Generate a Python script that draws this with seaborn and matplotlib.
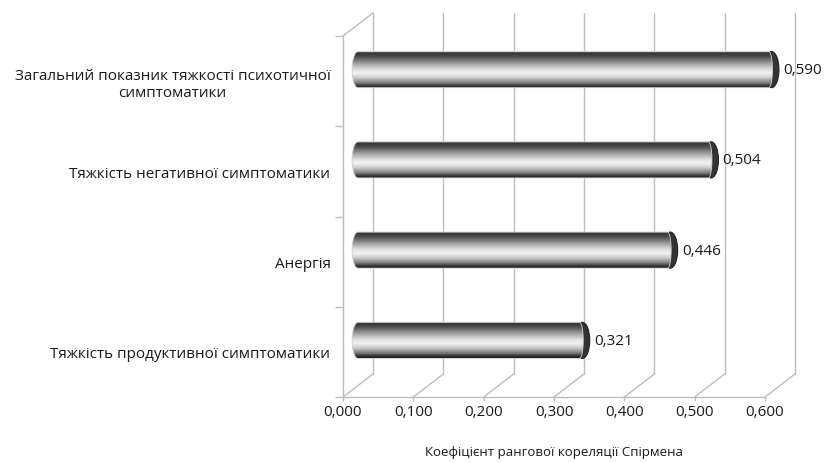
import numpy as np
import matplotlib
matplotlib.use("Agg")
import matplotlib.pyplot as plt
import matplotlib.transforms as mtransforms
from matplotlib.patches import ConnectionPatch, Ellipse, PathPatch
from matplotlib.path import Path
import seaborn as sns

# data
labels = [
    "Загальний показник тяжкості психотичної\nсимптоматики",
    "Тяжкість негативної симптоматики",
    "Анергія",
    "Тяжкість продуктивної симптоматики",
]
values = [0.590, 0.504, 0.446, 0.321]
xticks = [0.0, 0.1, 0.2, 0.3, 0.4, 0.5, 0.6]
xtick_labels = ["0,000", "0,100", "0,200", "0,300", "0,400", "0,500", "0,600"]
xlabel = "Коефіцієнт рангової кореляції Спірмена"

sns.set_style("white")
plt.rcParams["font.family"] = ["Open Sans", "DejaVu Sans"]

GRID = "#bdbdbd"
TXT = "#1a1a1a"

fig = plt.figure(figsize=(8.28, 4.64), dpi=100)
ax = fig.add_axes([343 / 828, 66 / 464, 422 / 828, 361 / 464])

sns.barplot(x=values, y=labels, orient="h", color="#b0b0b0", width=0.4, ax=ax)
bars = list(ax.patches)

ax.set_xlim(0, 0.6)
ax.set_ylim(len(labels) - 0.5, -0.5)
ax.autoscale(False)

# 3d-ish offsets: back wall and bar depth
back = mtransforms.ScaledTranslation(30 / 100, 23 / 100, fig.dpi_scale_trans)
mid = mtransforms.ScaledTranslation(15 / 100, 11.5 / 100, fig.dpi_scale_trans)
ybot, ytop = len(labels) - 0.5, -0.5

# back wall gridlines + floor slants
for xt in xticks:
    ax.plot([xt, xt], [ybot, ytop], color=GRID, lw=1, transform=ax.transData + back,
            clip_on=False, zorder=0)
    ax.add_artist(ConnectionPatch(xyA=(xt, ybot), coordsA=ax.transData,
                                  xyB=(xt, ybot), coordsB=ax.transData + back,
                                  color=GRID, lw=1, zorder=0))
ax.add_artist(ConnectionPatch(xyA=(0, ytop), coordsA=ax.transData,
                              xyB=(0, ytop), coordsB=ax.transData + back,
                              color=GRID, lw=1, zorder=0))

# cylinder shading profile, top -> bottom
stops = [0.0, 0.05, 0.15, 0.33, 0.5, 0.6, 0.72, 0.86, 0.95, 1.0]
greys = [0.6, 0.2, 0.3, 0.62, 0.88, 0.95, 0.8, 0.5, 0.2, 0.12]
prof = np.interp(np.linspace(0, 1, 80), stops, greys).reshape(-1, 1)

cap = 0.0105
for p in bars:
    x0, y0 = p.get_x(), p.get_y()
    w, h = p.get_width(), p.get_height()
    yc = y0 + h / 2
    p.set_visible(False)

    # end face (dark)
    ax.add_patch(Ellipse((x0 + w - 0.002, yc), 2 * cap, h, transform=ax.transData + mid,
                         fc="#333333", ec="#222222", lw=0.8, zorder=2, clip_on=False))

    # capsule outline for the body
    t = np.linspace(np.pi / 2, 3 * np.pi / 2, 30)
    left = np.column_stack([x0 + 0.8 * cap * np.cos(t), yc - h / 2 * np.sin(t)])
    right = np.column_stack([x0 + w - 0.006 - 0.5 * cap * np.cos(t), yc + h / 2 * np.sin(t)])
    verts = np.vstack([left, right, left[:1]])
    body = PathPatch(Path(verts), transform=ax.transData + mid, fc="none",
                     ec="#cfcfcf", lw=0.6, zorder=4, clip_on=False)
    ax.add_patch(body)

    im = ax.imshow(prof, cmap="gray", vmin=0, vmax=1, aspect="auto",
                   interpolation="bilinear",
                   extent=(x0 - cap, x0 + w + cap, y0 + h, y0),
                   transform=ax.transData + mid, zorder=3)
    im.set_clip_box(fig.bbox)
    im.set_clip_path(body)

    ax.text(x0 + w + cap + 0.004, yc, f"{w:.3f}".replace(".", ","),
            transform=ax.transData + mid, va="center", ha="left",
            fontsize=11, color=TXT)

ax.set_xlim(0, 0.6)
ax.set_ylim(ybot, ytop)

# axes styling
for s in ["top", "right"]:
    ax.spines[s].set_visible(False)
for s in ["left", "bottom"]:
    ax.spines[s].set_color(GRID)
    ax.spines[s].set_linewidth(1)
    ax.spines[s].set_zorder(0)

ax.set_xticks(xticks)
ax.set_xticklabels(xtick_labels)
ax.tick_params(axis="x", length=3, width=1, color=GRID, pad=2, labelsize=11,
               labelcolor=TXT, bottom=True)
ax.set_yticks(range(len(labels)))
ax.set_yticklabels(labels, multialignment="center")
ax.set_yticks(np.arange(-0.5, len(labels), 1), minor=True)
ax.tick_params(axis="y", which="major", length=0, pad=9, labelsize=11,
               labelcolor=TXT)
ax.tick_params(axis="y", which="minor", length=6, width=1, color=GRID, left=True)

ax.set_ylabel("")
ax.set_xlabel(xlabel, fontsize=9.5, color=TXT, labelpad=19)

fig.savefig("out.png", dpi=100)
